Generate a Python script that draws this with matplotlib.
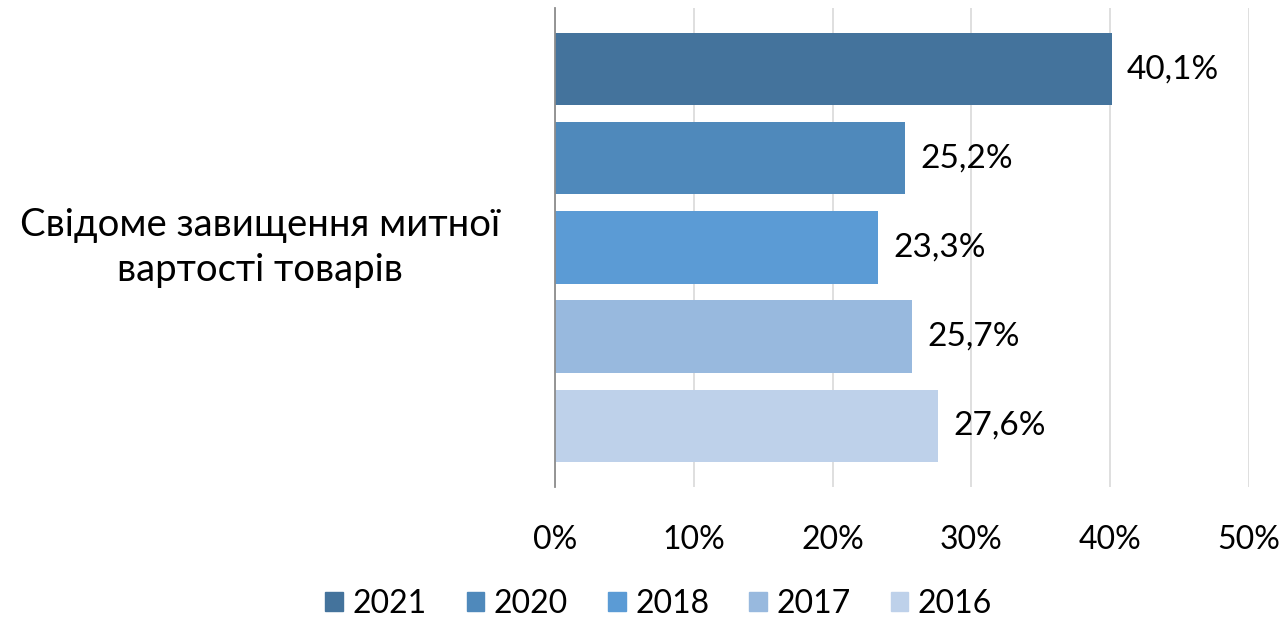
import matplotlib.pyplot as plt
from matplotlib.patches import Patch

plt.rcParams['font.family'] = ['Lato', 'Open Sans', 'DejaVu Sans']

category = "Свідоме завищення митної\nвартості товарів"
years = ["2021", "2020", "2018", "2017", "2016"]
values = [40.1, 25.2, 23.3, 25.7, 27.6]
labels = ["40,1%", "25,2%", "23,3%", "25,7%", "27,6%"]
colors = ["#44739c", "#4f89bb", "#5b9bd5", "#98b9de", "#bed1ea"]

fig = plt.figure(figsize=(12.84, 6.19), dpi=100)
ax = fig.add_axes([0.4322, 0.2132, 0.5405, 0.774])

pos = list(range(len(years)))
ax.barh(pos, values, height=0.81, color=colors, zorder=2)

for p, v, lab in zip(pos, values, labels):
    ax.annotate(lab, (v, p), xytext=(11, 0), textcoords="offset points",
                va="center", ha="left", fontsize=24)

ax.set_xlim(0, 50)
ax.set_ylim(4.69, -0.69)
ax.set_xticks([0, 10, 20, 30, 40, 50])
ax.set_xticklabels([f"{t}%" for t in [0, 10, 20, 30, 40, 50]], fontsize=23)
ax.set_yticks([])
ax.tick_params(axis="x", length=0, pad=27)
ax.grid(axis="x", color="#d9d9d9", linewidth=1.2, zorder=0)

for s in ["top", "right", "bottom"]:
    ax.spines[s].set_visible(False)
ax.spines["left"].set_color("#8c8c8c")
ax.spines["left"].set_linewidth(1.3)
ax.spines["left"].set_zorder(3)

ax.text(-0.425, 2, category, transform=ax.get_yaxis_transform(),
        ha="center", va="center", fontsize=27.5, linespacing=1.3)

handles = [Patch(color=c, label=y) for c, y in zip(colors, years)]
fig.legend(handles=handles, loc="center", bbox_to_anchor=(0.513, 0.024),
           ncol=5, frameon=False, fontsize=23, handlelength=0.55,
           handleheight=0.55, handletextpad=0.3, columnspacing=1.25)

fig.savefig("out.png", dpi=100)
